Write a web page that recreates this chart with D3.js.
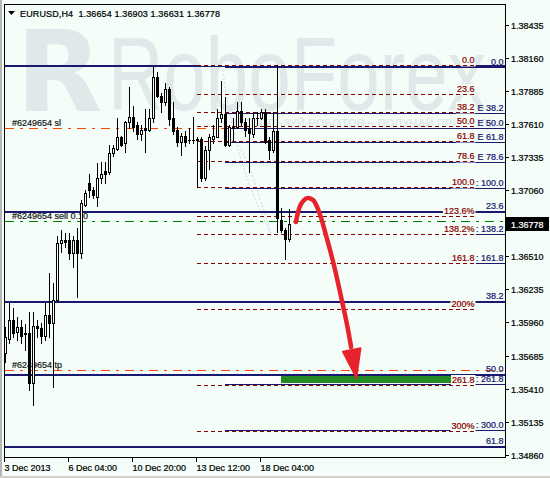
<!DOCTYPE html>
<html>
<head>
<meta charset="utf-8">
<script src="https://cdn.jsdelivr.net/npm/d3@7/dist/d3.min.js"></script>
<style>
  html, body { margin: 0; padding: 0; background: #f4fdf8; }
  svg { display: block; }
  text { white-space: pre; }
  .ui { font-family: 'Liberation Sans', Arial, sans-serif; font-size: 9px; stroke-width: 0.22px; paint-order: stroke; }
</style>
</head>
<body>
<svg id="chart" width="550" height="478"></svg>
<script>
// ---- chart data (EURUSD, H4) ----
const symbol = "EURUSD,H4";
const dateLabels = ["3 Dec 2013", "6 Dec 04:00", "10 Dec 20:00", "13 Dec 12:00", "18 Dec 04:00"];
const dateLabelBars = [0, 16, 32, 48, 64];
const priceTicks = [1.38435, 1.38160, 1.37885, 1.37610, 1.37335, 1.37060, 1.36785,
                    1.36510, 1.36235, 1.35960, 1.35685, 1.35410, 1.35135, 1.34860];

const opens = [
  1.35706, 1.35822, 1.35980, 1.35880, 1.35922, 1.35856, 1.35872, 1.35456, 1.35930, 1.35914, 1.35847, 1.36022,
  1.35955, 1.36147, 1.36621, 1.36646, 1.36638, 1.36538, 1.36638, 1.36538, 1.36937, 1.37120, 1.37062, 1.37004,
  1.37154, 1.37212, 1.37204, 1.37370, 1.37403, 1.37503, 1.37445, 1.37620, 1.37669, 1.37595, 1.37528, 1.37570,
  1.37561, 1.37661, 1.38002, 1.37844, 1.37794, 1.37902, 1.37653, 1.37561, 1.37461, 1.37511, 1.37478, 1.37478,
  1.37470, 1.37486, 1.37162, 1.37387, 1.37486, 1.37503, 1.37661, 1.37694, 1.37436, 1.37578, 1.37586, 1.37719,
  1.37620, 1.37578, 1.37528, 1.37653, 1.37661, 1.37703, 1.37478, 1.37395, 1.37545, 1.36812, 1.36729, 1.36654];
const highs = [
  1.35922, 1.36122, 1.36080, 1.36005, 1.35980, 1.35947, 1.36039, 1.36039, 1.35980, 1.35955, 1.36122, 1.36371,
  1.36288, 1.36679, 1.36729, 1.36704, 1.36704, 1.36679, 1.36746, 1.36979, 1.37062, 1.37195, 1.37087, 1.37279,
  1.37287, 1.37287, 1.37436, 1.37436, 1.37661, 1.37511, 1.37628, 1.37919, 1.37753, 1.37620, 1.37603, 1.37728,
  1.37728, 1.38086, 1.38036, 1.37869, 1.37952, 1.37911, 1.37794, 1.37586, 1.37536, 1.37545, 1.37578, 1.37669,
  1.37503, 1.37503, 1.37420, 1.37520, 1.37603, 1.37736, 1.37969, 1.37828, 1.37603, 1.37653, 1.37794, 1.37794,
  1.37653, 1.37661, 1.37703, 1.37703, 1.37728, 1.37728, 1.37503, 1.37711, 1.38094, 1.36912, 1.36746, 1.36903];
const lows = [
  1.35623, 1.35789, 1.35839, 1.35814, 1.35789, 1.35731, 1.35398, 1.35273, 1.35831, 1.35789, 1.35814, 1.35839,
  1.35423, 1.36138, 1.36546, 1.36588, 1.36480, 1.36421, 1.36172, 1.36496, 1.36921, 1.37004, 1.36995, 1.36929,
  1.37120, 1.37120, 1.37195, 1.37337, 1.37395, 1.37420, 1.37378, 1.37578, 1.37545, 1.37486, 1.37478, 1.37378,
  1.37545, 1.37620, 1.37828, 1.37703, 1.37769, 1.37603, 1.37520, 1.37428, 1.37353, 1.37420, 1.37453, 1.37453,
  1.37079, 1.37137, 1.37145, 1.37229, 1.37453, 1.37495, 1.37620, 1.37420, 1.37428, 1.37478, 1.37578, 1.37603,
  1.37511, 1.37204, 1.37495, 1.37603, 1.37645, 1.37453, 1.37312, 1.37378, 1.36712, 1.36712, 1.36480, 1.36631];
const closes = [
  1.35831, 1.35980, 1.35872, 1.35922, 1.35847, 1.35872, 1.35456, 1.35930, 1.35914, 1.35847, 1.36022, 1.35955,
  1.36147, 1.36621, 1.36646, 1.36629, 1.36538, 1.36638, 1.36538, 1.36946, 1.37037, 1.37054, 1.37020, 1.37154,
  1.37195, 1.37195, 1.37370, 1.37411, 1.37503, 1.37436, 1.37620, 1.37669, 1.37586, 1.37528, 1.37561, 1.37561,
  1.37661, 1.38002, 1.37836, 1.37794, 1.37902, 1.37645, 1.37545, 1.37461, 1.37511, 1.37461, 1.37470, 1.37470,
  1.37486, 1.37154, 1.37395, 1.37495, 1.37511, 1.37661, 1.37694, 1.37436, 1.37586, 1.37586, 1.37719, 1.37620,
  1.37561, 1.37536, 1.37661, 1.37661, 1.37703, 1.37461, 1.37395, 1.37545, 1.36829, 1.36729, 1.36654, 1.36778];

// Fibonacci retracement (dark red, dotted)
const fibLevels = [0, 23.6, 38.2, 50, 61.8, 78.6, 100, 123.6, 138.2, 161.8, 200, 261.8, 300];
const fibLabels = ["0.0", "23.6", "38.2", "50.0", "61.8", "78.6", "100.0", "123.6%", "138.2%", "161.8", "200%", "261.8", "300%"];
const fibPrices = [1.38096, 1.37081];       // 0% and 100%
const fibBars = [48, 117.5];

// Fibonacci expansion (thin navy)
const expLevels = [0, 38.2, 50, 61.8, 78.6, 100, 138.2, 161.8, 261.8, 300];
const expLabels = ["0.0", "E 38.2", "E 50.0", "E 61.8", "E 78.6", ": 100.0", ": 138.2", ": 161.8", ": 261.8", ": 300.0"];
const expPrices = [1.38081, 1.37075];
const expBars = [55, 125];

// Wide Fibonacci grid (thick navy)
const gridLevels = [0, 23.6, 38.2, 50, 61.8];
const gridLabels = ["0.0", "23.6", "38.2", "50.0", "61.8"];
const gridPrices = [1.38094, 1.32968];
const gridBars = [-2, 125];

// faint dotted arcs
const arcBars = [[54.3, 55.5, 57.5, 60.5, 63.5, 66.5], [58.5, 61.5, 64, 66.5]];
const arcPrices = [[1.38060, 1.37800, 1.37480, 1.37150, 1.36900, 1.36680],
                   [1.37430, 1.37200, 1.36950, 1.36700]];

// order lines
const orderNames = ["#6249654 sl", "#6249654 sell 0.10", "#6249654 tp"];
const orderPrices = [1.37570, 1.36804, 1.35562];
const orderColors = ["#ff4500", "#008000", "#ff4500"];

// target zone
const zoneBars = [55, 69, 111.6];
const zonePrices = [1.35519, 1.35456];

// forecast arrow
const arrowBars = [72.6, 73.9, 75.4, 76.9, 78.4, 80.1, 82.1, 83.9, 85.4, 86.4];
const arrowPrices = [1.36796, 1.36946, 1.36995, 1.36979, 1.36879, 1.36688, 1.36438, 1.36172, 1.35939, 1.35756];
const arrowHeadBars = [84.3, 88.8, 87.75];
const arrowHeadPrices = [1.35718, 1.35747, 1.35494];

// ---- drawing ----
const svg = d3.select("#chart");
const W = 550, H = 478;
const frame = { left: 4.5, top: 4.5, right: 505.5, bottom: 457.5 };
const BG = "#f4fdf8", NAVY = "#191970", DRED = "#8b0000";

const label = (sel, color) => sel.attr("class", "ui").attr("fill", color).attr("stroke", color);

const x = d3.scaleLinear().domain([0, 125]).range([5.5, 505.5]);
const y = d3.scaleLinear().domain([1.38435, 1.34860]).range([25, 454.7]);
const row = v => Math.floor(y(v)) + 0.5;

svg.append("rect").attr("width", W).attr("height", H).attr("fill", BG);
svg.append("rect").attr("x", 0).attr("y", 0).attr("width", 2).attr("height", H).attr("fill", "#b8b8b8");
svg.append("rect").attr("x", 0).attr("y", H - 2).attr("width", W).attr("height", 2).attr("fill", "#d4d0c8");

// watermark
const wm = svg.append("g").attr("fill", "#dfe9ea");
wm.append("text").attr("x", 16).attr("y", 111).style("font-family", "'DejaVu Sans', sans-serif")
  .style("font-size", "112px").style("font-weight", "bold").text("R");
wm.append("text").attr("x", 108).attr("y", 110).style("font-family", "'Liberation Sans', sans-serif")
  .style("font-size", "104px").attr("textLength", 378).attr("lengthAdjust", "spacingAndGlyphs").text("RoboForex");
wm.append("text").attr("x", 234).attr("y", 127).style("font-family", "'Liberation Sans', sans-serif")
  .style("font-size", "10px").style("font-weight", "bold")
  .attr("textLength", 262).attr("lengthAdjust", "spacingAndGlyphs").text("ИСПОЛЬЗУЙ РОБОТОВ – ПОЛУЧАЙ ПРИБЫЛЬ");

svg.append("defs").append("clipPath").attr("id", "plotClip")
  .append("rect").attr("x", 5).attr("y", 5).attr("width", 500).attr("height", 452);
const plot = svg.append("g").attr("clip-path", "url(#plotClip)");

// title
svg.append("path").attr("d", "M8,11 L15,11 L11.5,15 Z").attr("fill", "#000");
svg.append("text").call(label, "#000").attr("x", 20).attr("y", 16.5)
  .attr("textLength", 200).attr("lengthAdjust", "spacing")
  .text(`${symbol}  ${[opens[71], highs[71], lows[71], closes[71]].map(d3.format(".5f")).join(" ")}`);

// faint dotted arcs
arcBars.forEach((bs, k) => {
  plot.append("path").attr("d", d3.line().curve(d3.curveCatmullRom)(bs.map((b, j) => [x(b), y(arcPrices[k][j])])))
    .attr("fill", "none").attr("stroke", "#c9d6f2").attr("stroke-width", 1).attr("stroke-dasharray", "2,2");
});

// order labels and lines
orderNames.forEach((name, k) => {
  plot.append("text").call(label, "#1a1a1a").attr("x", 12).attr("y", row(orderPrices[k]) - 2.5).text(name);
});
orderPrices.forEach((p, k) => {
  plot.append("line").attr("x1", 5).attr("x2", 505).attr("y1", row(p)).attr("y2", row(p))
    .attr("stroke", orderColors[k]).attr("stroke-width", 1).attr("stroke-dasharray", "9,6,3,6");
});

// target zone
const zy0 = Math.floor(y(zonePrices[0])), zy1 = Math.floor(y(zonePrices[1]));
plot.append("rect").attr("x", x(zoneBars[0])).attr("y", zy0).attr("width", x(zoneBars[2]) - x(zoneBars[0]))
  .attr("height", zy1 - zy0).attr("fill", "#ffffff");
plot.append("rect").attr("x", x(zoneBars[1]) - 0.5).attr("y", zy0).attr("width", x(zoneBars[2]) - x(zoneBars[1]))
  .attr("height", zy1 - zy0).attr("fill", "#228b22");

// level helpers
const levelPrice = (pr, lv) => pr[0] + (pr[1] - pr[0]) * lv / 100;

// thick navy grid
gridLevels.forEach(lv => {
  const yy = Math.floor(y(levelPrice(gridPrices, lv))) + 1;
  plot.append("line").attr("x1", x(gridBars[0])).attr("x2", x(gridBars[1])).attr("y1", yy).attr("y2", yy)
    .attr("stroke", NAVY).attr("stroke-width", 2);
});
// thin navy expansion
expLevels.forEach(lv => {
  const yy = row(levelPrice(expPrices, lv));
  plot.append("line").attr("x1", x(expBars[0]) - 0.5).attr("x2", x(expBars[1])).attr("y1", yy).attr("y2", yy)
    .attr("stroke", NAVY).attr("stroke-width", 1);
});

// red retracement labels (opaque background) and dotted lines
const fibEnd = x(fibBars[1]);
fibLevels.forEach((lv, k) => {
  const yy = row(levelPrice(fibPrices, lv));
  const g = plot.append("g");
  const bg = g.append("rect").attr("fill", BG);
  const t = g.append("text").call(label, DRED).attr("x", fibEnd - 1).attr("y", yy - 2.5)
    .attr("text-anchor", "end").text(fibLabels[k]);
  const bb = t.node().getBBox();
  bg.attr("x", bb.x - 1).attr("y", bb.y).attr("width", bb.width + 2).attr("height", yy + 1 - bb.y);
  plot.append("line").attr("x1", x(fibBars[0]) - 0.5).attr("x2", fibEnd).attr("y1", yy).attr("y2", yy)
    .attr("stroke", BG).attr("stroke-width", 1);
  plot.append("line").attr("x1", x(fibBars[0]) - 0.5).attr("x2", fibEnd).attr("y1", yy).attr("y2", yy)
    .attr("stroke", DRED).attr("stroke-width", 1).attr("stroke-dasharray", "4,3");
});

// navy labels at the right edge
expLevels.forEach((lv, k) => {
  plot.append("text").call(label, NAVY).attr("x", 503.5).attr("y", row(levelPrice(expPrices, lv)) - 2.5)
    .attr("text-anchor", "end").text(expLabels[k]);
});
gridLevels.forEach((lv, k) => {
  if (lv === 0) return;
  plot.append("text").call(label, NAVY).attr("x", 503.5).attr("y", Math.floor(y(levelPrice(gridPrices, lv))) - 2)
    .attr("text-anchor", "end").text(gridLabels[k]);
});

// candles
const bars = d3.range(opens.length).map(i => ({ i, o: opens[i], h: highs[i], l: lows[i], c: closes[i] }));
const cg = plot.append("g");
bars.forEach(b => {
  const cx = x(b.i);
  cg.append("line").attr("x1", cx).attr("x2", cx)
    .attr("y1", Math.floor(y(b.h))).attr("y2", Math.floor(y(b.l)) + 1)
    .attr("stroke", "#000").attr("stroke-width", 1);
  const top = Math.floor(y(Math.max(b.o, b.c))), bot = Math.floor(y(Math.min(b.o, b.c)));
  if (bot - top < 1) {
    cg.append("line").attr("x1", cx - 1.5).attr("x2", cx + 1.5).attr("y1", top + 0.5).attr("y2", top + 0.5)
      .attr("stroke", "#000");
  } else {
    cg.append("rect").attr("x", cx - 1).attr("y", top + 0.5).attr("width", 2).attr("height", bot - top)
      .attr("fill", b.c >= b.o ? "#ffffff" : "#000000").attr("stroke", "#000").attr("stroke-width", 1);
  }
});

// forecast arrow
const arrowPts = arrowBars.map((b, k) => [x(b), y(arrowPrices[k])]);
plot.append("path").attr("d", d3.line().curve(d3.curveCatmullRom)(arrowPts))
  .attr("fill", "none").attr("stroke", "#e8222c").attr("stroke-width", 4.5).attr("stroke-linecap", "round");
plot.append("path")
  .attr("d", d3.line()(arrowHeadBars.map((b, k) => [x(b), y(arrowHeadPrices[k])])) + "Z")
  .attr("fill", "#e8222c").attr("stroke", "#e8222c").attr("stroke-width", 1.5).attr("stroke-linejoin", "round");

// frame
svg.append("rect").attr("x", frame.left).attr("y", frame.top)
  .attr("width", frame.right - frame.left).attr("height", frame.bottom - frame.top)
  .attr("fill", "none").attr("stroke", "#000");

// price axis
const yAxis = svg.append("g");
priceTicks.forEach(p => {
  const yy = Math.round(y(p)) + 0.5;
  yAxis.append("line").attr("x1", 505).attr("x2", 509).attr("y1", yy).attr("y2", yy).attr("stroke", "#000");
  yAxis.append("text").call(label, "#000").attr("x", 511).attr("y", yy + 3.5).text(d3.format(".5f")(p));
});

// current price marker
const cy = Math.round(y(closes[71]));
svg.append("rect").attr("x", 506).attr("y", cy - 7).attr("width", 43).attr("height", 14).attr("fill", "#000");
svg.append("text").call(label, "#fff").attr("x", 511).attr("y", cy + 3.5).text(d3.format(".5f")(closes[71]));

// time axis
dateLabelBars.forEach((b, k) => {
  const xx = Math.floor(x(b)) - 0.5;
  svg.append("line").attr("x1", xx).attr("x2", xx).attr("y1", 458).attr("y2", 462).attr("stroke", "#000");
  svg.append("text").call(label, "#000").attr("x", xx).attr("y", 471).text(dateLabels[k]);
});
</script>
</body>
</html>
